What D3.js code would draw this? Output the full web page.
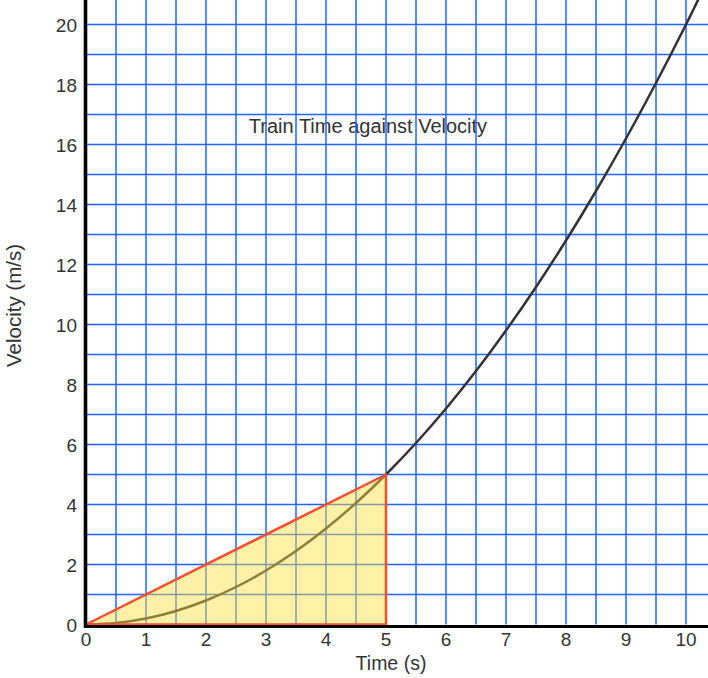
<!DOCTYPE html>
<html><head><meta charset="utf-8">
<script src="https://cdn.jsdelivr.net/npm/d3@7"></script>
<style>
html,body{margin:0;padding:0;background:#fff;}
svg{display:block;font-family:"Liberation Sans",Arial,Helvetica,sans-serif;}
</style></head>
<body>
<svg id="chart" width="708" height="678"></svg>
<script>
const title = "Train Time against Velocity";
const xLabel = "Time (s)";
const yLabel = "Velocity (m/s)";
const xTicks = [0,1,2,3,4,5,6,7,8,9,10];
const yTicks = [0,2,4,6,8,10,12,14,16,18,20];
const times = [0,0.5,1,1.5,2,2.5,3,3.5,4,4.5,5,5.5,6,6.5,7,7.5,8,8.5,9,9.5,10,10.5];
const velocities = [0,0.05,0.2,0.45,0.8,1.25,1.8,2.45,3.2,4.05,5,6.05,7.2,8.45,9.8,11.25,12.8,14.45,16.2,18.05,20,22.05];
const areaT = [0,5,5];
const areaV = [0,5,0];

const svg = d3.select("#chart");
const pL = 86, pR = 708, pT = 0, pB = 624.5;
const x = d3.scaleLinear().domain([0, (pR-pL)/60]).range([pL, pR]);
const y = d3.scaleLinear().domain([0, (pB-pT)/30]).range([pB, pT]);

svg.append("defs").append("clipPath").attr("id","clip")
  .append("rect").attr("x",pL).attr("y",pT).attr("width",pR-pL).attr("height",pB-pT+2);

// title (under grid)
svg.append("text").attr("x", 368).attr("y", 132.7).attr("text-anchor","middle")
  .attr("font-size", 20).attr("fill","#333").text(title);

// grid
const gv = d3.range(1, 21).map(i => i*0.5);
const gh = d3.range(1, 21);
const grid = svg.append("g").attr("stroke","#1f66ff").attr("stroke-width",1.5);
grid.selectAll("line.v").data(gv).join("line").attr("class","v")
  .attr("x1", d=>x(d)).attr("x2", d=>x(d)).attr("y1", pT).attr("y2", pB);
grid.selectAll("line.h").data(gh).join("line").attr("class","h")
  .attr("x1", pL).attr("x2", pR).attr("y1", d=>y(d)).attr("y2", d=>y(d));

// curve
const pts = times.map((t,i)=>[t, velocities[i]]);
svg.append("path").datum(pts).attr("clip-path","url(#clip)")
  .attr("fill","none").attr("stroke","#333").attr("stroke-width",2.5)
  .attr("d", d3.line().x(d=>x(d[0])).y(d=>y(d[1])).curve(d3.curveCatmullRom));

// shaded triangle
const tri = areaT.map((t,i)=>[t, areaV[i]]);
svg.append("path").datum(tri)
  .attr("fill","rgba(255,222,60,0.45)").attr("stroke","#f2502e").attr("stroke-width",2.5)
  .attr("stroke-linejoin","round")
  .attr("d", d3.line().x(d=>x(d[0])).y(d=>y(d[1])).curve(d3.curveLinearClosed));

// axis lines
svg.append("line").attr("x1",pL-0.5).attr("x2",pL-0.5).attr("y1",0).attr("y2",628)
  .attr("stroke","#000").attr("stroke-width",3.6);
svg.append("line").attr("x1",pL-2).attr("x2",pR).attr("y1",626.5).attr("y2",626.5)
  .attr("stroke","#000").attr("stroke-width",3);

// tick labels
svg.append("g").selectAll("text").data(xTicks).join("text")
  .attr("x", d=>x(d)).attr("y", 646).attr("text-anchor","middle")
  .attr("font-size",19).attr("fill","#333").text(d=>d);
svg.append("g").selectAll("text").data(yTicks).join("text")
  .attr("x", 77).attr("y", d=>y(d)+7.5).attr("text-anchor","end")
  .attr("font-size",19).attr("fill","#333").text(d=>d);

// axis titles
svg.append("text").attr("x", 391).attr("y", 670).attr("text-anchor","middle")
  .attr("font-size",19.5).attr("fill","#333").text(xLabel);
svg.append("text").attr("transform","translate(20.5,305.5) rotate(-90)").attr("text-anchor","middle")
  .attr("font-size",20.5).attr("fill","#333").text(yLabel);
</script>
</body></html>
